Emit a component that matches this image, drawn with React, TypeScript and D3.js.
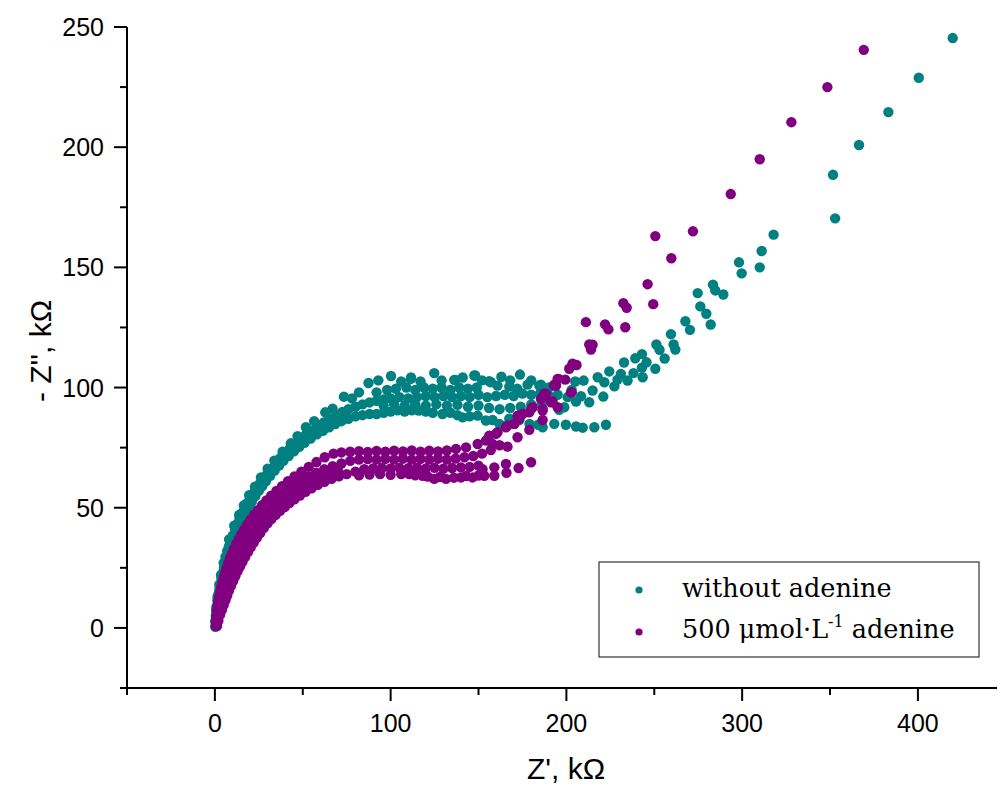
import React from 'react';
import * as d3 from 'd3';

type Pt = [number, number];

// ---------- without adenine (teal) ----------
const tealArcInner: Pt[] = [
  [0.2,0.5],[0.3,2.5],[0.5,5],[0.7,7],[1,9],[1.4,11.5],[2,14],[2.5,16],[3,18],[3.7,20.5],[4.5,23],[5.2,25],[6,27],[7,29.5],[8,31.5],[9,33.5],[10,35.5],[11.2,37.8],[12.5,40],[13.8,42],[15,44],[16.5,46.3],[18,48.5],[19.5,50.5],[21,52.5],[23,54.8],[25,57],[27,59],[29,61],[31.5,63.3],[34,65.5],[36.5,67.5],[39,69.5],[42,71.5],[45,73.5],[48,75.3],[51,77],[54.5,78.8],[58,80.5],[61.5,82],[65,83.5],[68.5,84.8],[72,86],[76,87],[80,88]
];
const tealArcOuter: Pt[] = [
  [0.3,3],[0.8,8],[1.5,13],[2.5,18],[3.5,22],[5,27],[6,29.5],[7,32],[8,34],[9,36],[10.2,38.5],[11.5,41],[12.7,43.2],[14,45.5],[15.5,47.8],[17,50],[18.5,52],[20,54],[21.8,56],[23.5,58],[25.5,60],[27.5,62],[29.7,64],[32,66],[34.5,68.3],[37,70.5],[39.7,72.5],[42.5,74.5],[45.5,76.5],[48.5,78.5],[51.7,80.3],[55,82],[58.5,83.8],[62,85.5],[65.5,87],[69,88.5],[72.5,89.8],[76,91],[80,92],[84,93],[88,93.8],[92,94.5]
];
const tealArcBumps: Pt[] = [
  [8.1,36.8],[11,42.5],[13.8,47],[16.5,51],[19.5,55.2],[22.8,58.8],[26.2,62.6],[30,66.2],[33.8,69.6],[38.5,73.3],[43.2,76.8],[47,79.8],[51.8,83.5],[56.5,86],[62.8,89.7],[67,91.2],[73.4,96.2],[78,95.5],[82,98],[87.4,101.9]
];
const tealPlateauLow: Pt[] = [
  [84,88.5],[88,89],[92,89],[96,89.5],[100,90],[104,90.5],[108,90],[112,90.5],[116,90.4],[120,90],[124,89.5],[129.5,89],[134,89.5],[138,88.5],[141,87.6],[145,88],[149.5,88.3],[154.2,86.3],[158,86.5],[161.9,84.9],[167.5,87],[173.2,86.5],[179,84.9]
];
const tealPlateauMid: Pt[] = [
  [96,92.5],[102,93],[108,92.5],[114,93],[120,92.5],[126,93],[132,92.5],[138,92.8],[144,92],[150,92.5],[156,91.5],[162,91],[168,91.5],[174,92],[180,93],[186,93.5],[192,94]
];
const tealPlateauHigh: Pt[] = [
  [96,95],[100,95.5],[105,96],[110,95.5],[115,96],[120,96.5],[125,96],[130,96.5],[135,96],[140,96.5],[145,96],[150,97],[155,96],[160,96.5],[165,97],[170,96.5],[175,97.5],[180,97],[185,97.5],[190,96.5],[195,97]
];
const tealPlateauTop: Pt[] = [
  [92,98],[98,99],[103,99.5],[109,100],[114,99],[119,100],[124,99.5],[129,100],[134,99],[139,100],[144,99.5],[149,100],[156.1,102.6],[160.8,100.8],[167.5,100.4],[172,99.5],[177.9,101.2],[184.6,100.8],[185.5,101.2],[190,100]
];
const tealPlateauScatter: Pt[] = [
  [93,103],[100.2,104.8],[106,102.5],[111.6,104.2],[117,102.5],[124.8,106],[129,103],[136.2,103.2],[141,104.2],[147.6,105],[152,103],[157.1,102.2],[163,104.5],[168,103],[173.6,105.4],[180,103],[111.5,103.6],[136.8,103.2],[148.1,105]
];
const tealLowBranch: Pt[] = [
  [184,84.5],[186.5,83.5],[193.1,84.9],[199.7,84.5],[205.5,83.8],[209.3,83.3],[215.9,83.5],[222.5,84.5]
];
const tealTail: Pt[] = [
  [195.9,90.7],[198.8,91.8],[205.5,94.2],[213,93.9],[200.7,96],[208.3,96.4],[221,96.25],[214.9,98.75],[203,99],[227.3,100.5],[205,102.5],[209.8,102.9],[221.6,102.2],[234.8,102.9],[229.1,103.3],[217.8,104.3],[231,105.7],[224.4,106.7],[243.4,104.3],[238.2,106],[250.6,107.8],[243,108.3],[232.8,110.4],[245.6,110.5],[239.2,112.2],[243,113.9],[255.9,112.1],[253,115.7],[251.2,117.9],[262,115.8],[261,117.9],[259.5,122.2],[270.3,124],[267.7,127.6],[282.1,126.25],[279.6,130.7],[276.2,133.75],[274.7,139.3],[289.3,138.7],[284.7,140.4],[283.4,142.8],[299.7,147.5],[310,150],[298.2,152.1],[311.1,156.8],[317.9,163.6],[352.9,170.4],[351.7,188.5],[366.5,200.9],[383.2,214.6],[400.5,228.9],[419.8,245.4]
];

// ---------- 500 µmol/L adenine (purple) ----------
const purpleArcOuter: Pt[] = [
  [0.5,0.8],[0.6,3],[0.8,5],[1.1,7],[1.5,9],[1.9,11],[2.4,13],[3,15],[3.6,17],[4.3,19],[5,21],[5.8,23],[6.7,25],[7.6,27],[8.6,29],[9.7,31],[10.9,33],[12.2,35],[13.6,37],[15.1,39],[16.7,41],[18.4,43],[20.3,45],[22.3,47],[24.5,49],[26.8,51],[29.3,53],[32,55],[35,57],[38.2,59],[41.6,61],[45.3,63],[49.2,65],[53.4,67],[57.8,69],[62.5,71],[67.5,72.5]
];
const purpleArcMid: Pt[] = [
  [0.8,1.5],[1.3,4],[1.9,6.5],[2.6,9],[3.4,11.5],[4.3,14],[5.3,16.5],[6.4,19],[7.6,21.5],[8.9,24],[10.3,26.5],[11.8,29],[13.4,31.5],[15.1,34],[16.9,36.5],[18.9,39],[21,41.5],[23.3,44],[25.8,46.5],[28.5,49],[31.4,51.3],[34.5,53.5],[37.8,55.6],[41.3,57.6],[45,59.5],[49,61.3],[53.2,63],[57.6,64.6],[62.2,66],[67,67.3],[72,68.4]
];
const purpleArcMid2: Pt[] = [
  [14,28.8],[17,32.9],[20,36.7],[23,39.9],[26,43.2],[29,46],[32,48.6],[35,50.6],[38,52.5],[41.5,54.5],[45,56.4],[49,58.3],[53,60],[57,61.5],[61,63],[65,64.3],[70,65.5]
];
const purpleArcInner: Pt[] = [
  [1.2,0.8],[2,3],[3,5.5],[4,7.5],[5,9.5],[6,11.5],[7,13.5],[8,15.5],[9.2,17.5],[10.4,19.5],[11.6,21.5],[12.9,23.5],[14.3,25.5],[15.7,27.5],[17.2,29.5],[18.8,31.5],[20.4,33.5],[22.1,35.5],[23.9,37.5],[25.8,39.5],[27.8,41.5],[30,43.5],[32.2,45.3],[34.6,47],[37.1,48.7],[39.7,50.3],[42.4,51.9],[45.3,53.5],[48.4,55.1],[51.6,56.6],[55,58.1],[58.6,59.5],[62.4,60.8],[66.4,62],[70.6,63.1],[75,64]
];
const purplePlateauTop: Pt[] = [
  [72,73],[77,73.3],[82,73.5],[87,73.2],[92,73.6],[97,73.3],[102,73.7],[107,73.4],[112,73.8],[117,73.3],[122,73.7],[127,73.4],[132,73.8],[137.2,74.5],[142.9,75.1],[149.5,76.5],[155.2,78.6],[159.9,80.7],[166.5,84.2],[172.2,88.3],[179.9,91.1],[186.5,96],[194.1,100.8],[203.5,109.5]
];
const purplePlateauHigh: Pt[] = [
  [77,69.5],[82,70],[87,70.2],[92,70],[97,70.3],[102,70],[107,70.4],[112,70],[117,70.3],[122,70],[127,70.4],[132,70],[137,70.5],[142,71],[147,71.5],[152,72.5],[157,74],[162,76],[166.5,75.4],[158,76.5],[154.2,77.9],[156.1,80],[160.8,81.4],[165.6,83.5],[170.4,84.9],[172.2,79.3],[178.9,82.4]
];
const purplePlateauMid: Pt[] = [
  [80,65],[85,66],[90,66.3],[95,66.5],[100,66.3],[105,66.6],[110,66.4],[115,66.7],[120,66.3],[125,66.6],[130,66.2],[135,66.5],[140,66.8],[145,67],[150,67.5],[152.3,66],[159,66.8],[165.6,68.2],[172.8,66.5],[179.9,68.9]
];
const purplePlateauLow: Pt[] = [
  [82,63.5],[88,63.8],[94,64],[100,63.7],[106,64],[110.6,64],[114,63.5],[118.2,63.3],[121,63],[124.8,62],[128,62.8],[131.5,62],[136,62.5],[140,62.6],[143,63.2],[146.6,62.6],[150,63.4],[153.3,63.3],[159,63.3],[165.9,64.5]
];
const purpleTail: Pt[] = [
  [173.2,87],[175.1,89],[178.9,89.7],[180.8,91.8],[185.5,95.3],[186.5,91.1],[187.4,97.4],[191.2,93.9],[193,100.8],[195,103.6],[195,91.8],[199.4,103.3],[201.6,107.8],[202.6,98],[203.5,109.9],[205.8,109.4],[186.5,86.5],[170.4,84.9],[186.5,90.4],[188.4,97.4],[192.1,94.3],[195.6,103.6],[193.1,101.2],[203,98],[211.1,127.2],[213,117.9],[214.9,117.8],[214,115.8],[222,126.3],[223.9,124.2],[233.5,125.1],[232.4,135.1],[234.3,133.2],[249.4,134.7],[246.2,143],[250.6,163],[259.7,153.8],[272,165],[293.5,180.5],[310,195],[328,210.4],[348.5,225],[369.2,240.5]
];

const tealSeries: Pt[] = [
  ...tealArcInner, ...tealArcOuter, ...tealArcBumps, ...tealPlateauLow, ...tealPlateauMid,
  ...tealPlateauHigh, ...tealPlateauTop, ...tealPlateauScatter, ...tealLowBranch, ...tealTail,
];
const purpleSeries: Pt[] = [
  ...purpleArcOuter, ...purpleArcMid, ...purpleArcMid2, ...purpleArcInner, ...purplePlateauTop,
  ...purplePlateauHigh, ...purplePlateauMid, ...purplePlateauLow, ...purpleTail,
];

const xMajorTicks = [0, 100, 200, 300, 400];
const xMinorTicks = [-50, 50, 150, 250, 350];
const yMajorTicks = [0, 50, 100, 150, 200, 250];
const yMinorTicks = [-25, 25, 75, 125, 175, 225];

const TEAL = '#008080';
const PURPLE = '#800080';

export default function App() {
  const W = 998, H = 787;
  const x = d3.scaleLinear().domain([-50, 445]).range([127, 997]);
  const y = d3.scaleLinear().domain([-25, 250]).range([688, 27]);
  const x0 = x(-50), yb = y(-25);
  const sans = "'Liberation Sans', Arial, sans-serif";
  const serif = "'DejaVu Serif', serif";
  const r = 5.2;

  return (
    <svg width={W} height={H} style={{ position: 'absolute', left: 0, top: 0, background: '#fff' }}>
      <rect x={0} y={0} width={W} height={H} fill="#fff" />
      {/* data */}
      <g fill={TEAL}>
        {tealSeries.map((d, i) => <circle key={'t' + i} cx={x(d[0])} cy={y(d[1])} r={r} />)}
      </g>
      <g fill={PURPLE}>
        {purpleSeries.map((d, i) => <circle key={'p' + i} cx={x(d[0])} cy={y(d[1])} r={r} />)}
      </g>

      {/* axes */}
      <g stroke="#000" strokeWidth={2} fill="none">
        <line x1={x0} y1={yb} x2={997} y2={yb} />
        <line x1={x0} y1={y(250)} x2={x0} y2={yb} />
        {xMajorTicks.map(t => <line key={'xm' + t} x1={x(t)} x2={x(t)} y1={yb} y2={yb + 13} />)}
        {xMinorTicks.map(t => <line key={'xn' + t} x1={x(t)} x2={x(t)} y1={yb} y2={yb + 7} />)}
        {yMajorTicks.map(t => <line key={'ym' + t} x1={x0 - 13} x2={x0} y1={y(t)} y2={y(t)} />)}
        {yMinorTicks.map(t => <line key={'yn' + t} x1={x0 - 7} x2={x0} y1={y(t)} y2={y(t)} />)}
      </g>
      <g fontFamily={sans} fontSize={25} fill="#000">
        {xMajorTicks.map(t => (
          <text key={'xl' + t} x={x(t)} y={732} textAnchor="middle">{t}</text>
        ))}
        {yMajorTicks.map(t => (
          <text key={'yl' + t} x={104} y={y(t) + 9} textAnchor="end">{t}</text>
        ))}
      </g>
      <text x={566} y={779} textAnchor="middle" fontFamily={sans} fontSize={30}>Z', kΩ</text>
      <text transform="translate(51,351) rotate(-90)" textAnchor="middle" fontFamily={sans} fontSize={30}>- Z'', kΩ</text>

      {/* legend */}
      <rect x={599} y={562} width={380} height={95} fill="#fff" stroke="#333" strokeWidth={1.2} />
      <circle cx={639} cy={590} r={3.6} fill={TEAL} />
      <circle cx={639} cy={632} r={3.6} fill={PURPLE} />
      <g fontFamily={serif} fontSize={25.5} fill="#000">
        <text x={682} y={597}>without adenine</text>
        <text x={682} y={638}>
          500 μmol·L<tspan fontSize={16} dy={-11}>-1</tspan><tspan dy={11}> adenine</tspan>
        </text>
      </g>
    </svg>
  );
}
